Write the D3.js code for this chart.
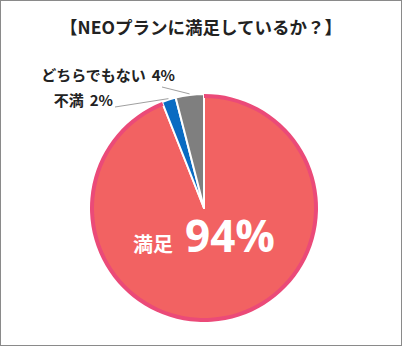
<!DOCTYPE html>
<html>
<head>
<meta charset="utf-8">
<script src="https://cdn.jsdelivr.net/npm/d3@7"></script>
<style>
  html, body { margin: 0; padding: 0; background: #fff; }
  svg { display: block; font-family: "Noto Sans CJK JP", "Noto Sans", sans-serif; }
</style>
</head>
<body>
<div id="chart"></div>
<script>
"use strict";

const title = "【NEOプランに満足しているか？】";
const categories = ["満足", "不満", "どちらでもない"];
const values = [94, 2, 4];
const colors = ["#f26262", "#0a6bc2", "#7f7f7f"];

const width = 402, height = 346;
const cx = 204, cy = 208, radius = 114;

const svg = d3.select("#chart").append("svg")
    .attr("width", width)
    .attr("height", height);

svg.append("rect")
    .attr("x", 0.5).attr("y", 0.5)
    .attr("width", width - 1).attr("height", height - 1)
    .attr("fill", "#fff")
    .attr("stroke", "#8a8a8a")
    .attr("stroke-width", 1);

svg.append("text")
    .attr("x", 201).attr("y", 34)
    .attr("text-anchor", "middle")
    .attr("font-size", "17.5px")
    .attr("font-weight", "bold")
    .attr("fill", "#222")
    .text(title);

const data = categories.map((c, i) => ({name: c, value: values[i], color: colors[i]}));

const pie = d3.pie().sort(null).value(d => d.value);
const arcs = pie(data);

const arc = d3.arc().innerRadius(0).outerRadius(radius);
const rim = d3.arc().innerRadius(radius - 4).outerRadius(radius);
const lineArc = d3.arc().innerRadius(radius + 1).outerRadius(radius + 1);

const g = svg.append("g").attr("transform", `translate(${cx},${cy})`);

g.selectAll("path.slice")
    .data(arcs)
    .join("path")
    .attr("class", "slice")
    .attr("d", arc)
    .attr("fill", d => d.data.color)
    .attr("stroke", "#fff")
    .attr("stroke-width", 2)
    .attr("stroke-linejoin", "round");

// pink rim on the big slice
g.append("path")
    .attr("d", rim(arcs[0]))
    .attr("fill", "#eb4a78");

// small labels with leader lines
const labelPos = {
    "不満": {x: 113, y: 106, lx: 115, ly: 107},
    "どちらでもない": {x: 175, y: 81, lx: 162, ly: 87}
};

arcs.slice(1).forEach(d => {
    const p = labelPos[d.data.name];
    const end = lineArc.centroid(d);
    svg.append("line")
        .attr("x1", p.lx).attr("y1", p.ly)
        .attr("x2", cx + end[0]).attr("y2", cy + end[1])
        .attr("stroke", "#a0a0a0")
        .attr("stroke-width", 1);
    const t = svg.append("text")
        .attr("x", p.x).attr("y", p.y)
        .attr("text-anchor", "end")
        .attr("font-size", "15px")
        .attr("font-weight", "bold")
        .attr("fill", "#222");
    t.append("tspan").text(d.data.name);
    t.append("tspan").attr("dx", 6).text(d.data.value + "%");
});

// big label
const main = svg.append("text")
    .attr("x", 133).attr("y", 252)
    .attr("fill", "#fff")
    .attr("font-weight", "bold");
main.append("tspan")
    .attr("font-size", "20px")
    .text(data[0].name);
main.append("tspan")
    .attr("dx", 12)
    .attr("font-size", "44px")
    .attr("font-family", "'Open Sans', 'Noto Sans', sans-serif")
    .text(data[0].value + "%");
</script>
</body>
</html>
